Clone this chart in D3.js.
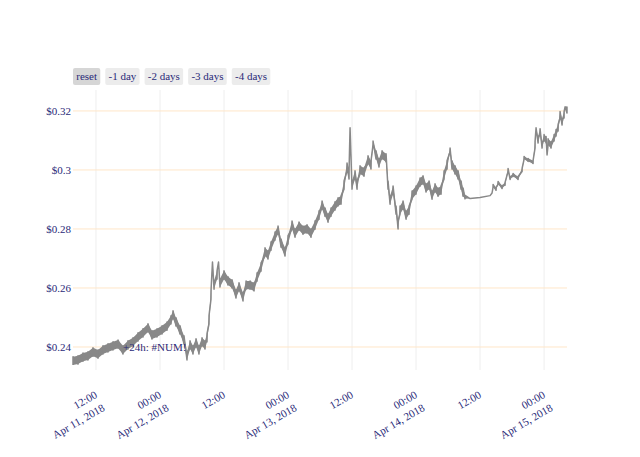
<!DOCTYPE html>
<html><head><meta charset="utf-8">
<script src="https://cdn.jsdelivr.net/npm/d3@7"></script>
<style>body{margin:0;background:#fff;}svg{display:block;}</style>
</head><body>
<svg id="c" width="640" height="457"></svg>
<script>
// ---- data ----
const baseDate = Date.UTC(2018, 3, 11, 0, 0); // Apr 11, 2018 00:00
const hours = [7.69, 8.63, 9.56, 10.5, 11.44, 12.38, 13.31, 14.25, 15.19, 16.13,
 17.06, 18.0, 18.94, 19.88, 20.81, 21.75, 22.5, 23.44, 24.38, 25.31,
 26.06, 26.44, 27.0, 27.75, 28.5, 29.06, 29.63, 30.19, 30.75, 31.31,
 31.88, 32.44, 32.81, 33.19, 33.56, 33.84, 34.13, 34.69, 34.97, 35.25,
 36.0, 36.75, 37.5, 38.25, 38.81, 39.56, 40.13, 40.88, 41.63, 42.19,
 42.94, 43.69, 44.25, 44.81, 45.56, 46.13, 46.69, 47.44, 48.0, 48.75,
 49.31, 50.06, 50.81, 51.56, 52.31, 53.06, 53.81, 54.38, 54.94, 55.5,
 56.06, 56.81, 57.38, 57.94, 58.5, 59.06, 59.44, 59.63, 60.0, 60.56,
 60.94, 61.5, 62.25, 63.0, 63.56, 63.94, 64.5, 65.06, 65.63, 66.38,
 66.75, 67.13, 67.69, 68.25, 68.63, 69.0, 69.56, 70.13, 70.69, 71.25,
 72.0, 72.75, 73.31, 73.88, 74.44, 75.0, 75.56, 76.13, 76.69, 77.25,
 77.81, 78.38, 78.75, 79.31, 79.88, 80.44, 80.81, 81.19, 82.13, 84.0,
 85.88, 86.25, 86.44, 87.0, 87.38, 88.13, 88.69, 89.25, 89.63, 90.19,
 91.13, 91.88, 92.25, 93.0, 93.94, 94.31, 94.5, 94.88, 95.25, 95.63,
 96.0, 96.38, 96.56, 96.75, 97.31, 97.88, 98.25, 98.63, 99.0, 99.38,
 99.75, 99.94, 100.3];
const prices = [.2353, .2356, .2366, .2370, .2383, .2376, .2390, .2397, .2404, .2410,
 .2390, .2407, .2417, .2434, .2448, .2465, .2441, .2448, .2458, .2471,
 .2492, .2509, .2485, .2458, .2424, .2370, .2407, .2390, .2414, .2390,
 .2417, .2407, .2431, .2492, .2576, .2688, .2610, .2644, .2688, .2617,
 .2644, .2624, .2614, .2580, .2604, .2570, .2610, .2610, .2604, .2637,
 .2671, .2722, .2712, .2742, .2776, .2796, .2752, .2722, .2763, .2813,
 .2786, .2810, .2796, .2800, .2786, .2813, .2847, .2881, .2857, .2837,
 .2857, .2878, .2892, .2898, .2949, .3010, .2983, .3143, .2949, .2983,
 .2949, .3000, .2993, .3034, .3017, .3092, .3051, .3024, .3051, .3041,
 .2949, .2898, .2932, .2864, .2814, .2864, .2881, .2847, .2864, .2915,
 .2932, .2959, .2966, .2939, .2949, .2915, .2939, .2925, .2932, .2983,
 .3017, .3068, .3017, .3000, .2983, .2949, .2925, .2908, .2903, .2907,
 .2913, .2922, .2946, .2936, .2956, .2942, .2953, .3000, .2973, .2983,
 .2973, .3000, .3041, .3034, .3027, .3085, .3143, .3102, .3129, .3085,
 .3109, .3102, .3051, .3095, .3085, .3109, .3126, .3143, .3187, .3163,
 .3187, .3214, .3204];
// intra-interval trading range (high - low) around each price
const ranges = [.0028, .0028, .0028, .0028, .0028, .0028, .0028, .0028, .0028, .0028,
 .0028, .0028, .0028, .0028, .0028, .0028, .0028, .0028, .0028, .0028,
 .0028, .0028, .0028, .0028, .0028, .0028, .0028, .0028, .0028, .0028,
 .0028, .0028, .0028, .0028, .0028, 0, .0028, .0028, 0, .0028,
 .0028, .0028, .0028, .0028, .0028, .0028, .0028, .0028, .0028, .0028,
 .0028, .0028, .0028, .0028, .0028, .0028, .0028, .0028, .0028, .0028,
 .0028, .0028, .0028, .0028, .0028, .0028, .0028, .0028, .0028, .0028,
 .0028, .0028, .0028, .0028, .0028, .0028, .0028, 0, .0028, .0028,
 .0028, .0028, .0028, .0028, .0028, .0012, .0028, .0028, .0028, .0028,
 .0028, .0028, .0028, .0028, .0028, .0028, .0028, .0028, .0028, .0028,
 .0028, .0028, .0028, .0028, .0028, .0028, .0028, .0028, .0028, .0028,
 .0028, .0012, .0028, .0028, .0028, .0028, .0028, .0012, 0, 0,
 0, 0, .001, .001, .001, .001, .001, .001, .001, .001,
 .001, .001, .001, .001, .001, .0022, 0, .0022, .0022, .0022,
 .0022, .0022, 0, .0022, .0022, .0022, .0022, .0022, .0022, .0022,
 .0022, 0, .0022];
const yTicks = [0.24, 0.26, 0.28, 0.30, 0.32];
const yTickLabels = ["$0.24", "$0.26", "$0.28", "$0.3", "$0.32"];
const xTickHours = [12, 24, 36, 48, 60, 72, 84, 96];
const xTickLine1 = ["12:00", "00:00", "12:00", "00:00", "12:00", "00:00", "12:00", "00:00"];
const xTickLine2 = ["Apr 11, 2018", "Apr 12, 2018", "", "Apr 13, 2018", "", "Apr 14, 2018", "", "Apr 15, 2018"];
const buttons = ["reset", "-1 day", "-2 days", "-3 days", "-4 days"];
const annotationText = "+24h: #NUM!";
const annotationHour = 23.0;
const annotationPrice = 0.24;

// ---- rendering ----
const HOUR = 3600000;
const data = hours.map((h, i) => ({t: new Date(baseDate + h * HOUR), p: prices[i], r: ranges[i]}));
const svg = d3.select("#c");
const FONT = "'Liberation Serif', 'Times New Roman', serif";
const TXT = "#2a2a78";
const L = 73, R = 567, T = 90, B = 370;

const x = d3.scaleUtc().domain(d3.extent(data, d => d.t)).range([L, R]);
const y = d3.scaleLinear().domain([0.2322, 0.3271]).range([B, T]);

// vertical grid
svg.append("g").selectAll("line").data(xTickHours).join("line")
  .attr("x1", d => x(new Date(baseDate + d * HOUR))).attr("x2", d => x(new Date(baseDate + d * HOUR)))
  .attr("y1", T).attr("y2", B).attr("stroke", "#eeeeee").attr("stroke-width", 1);
// horizontal grid
svg.append("g").selectAll("line").data(yTicks).join("line")
  .attr("x1", L).attr("x2", R).attr("y1", d => y(d)).attr("y2", d => y(d))
  .attr("stroke", "#ffe6c8").attr("stroke-width", 1);

// y labels
svg.append("g").selectAll("text").data(yTicks).join("text")
  .attr("x", 71).attr("y", d => y(d)).attr("dy", "0.35em")
  .attr("text-anchor", "end").attr("font-family", FONT).attr("font-size", 11)
  .attr("fill", TXT).text((d, i) => yTickLabels[i]);

// x labels
const xl = svg.append("g").selectAll("g").data(xTickHours).join("g")
  .attr("transform", d => `translate(${x(new Date(baseDate + d * HOUR)) + 2},397) rotate(-30)`);
xl.append("text").attr("text-anchor", "end").attr("font-family", FONT).attr("font-size", 11)
  .attr("fill", TXT).text((d, i) => xTickLine1[i]);
xl.append("text").attr("y", 15).attr("text-anchor", "end").attr("font-family", FONT).attr("font-size", 11)
  .attr("fill", TXT).text((d, i) => xTickLine2[i]);

// price band (low-high range) + zigzag trace between low and high
svg.append("path").datum(data)
  .attr("d", d3.area().x(d => x(d.t)).y0(d => y(d.p - d.r / 2)).y1(d => y(d.p + d.r / 2)))
  .attr("fill", "#888888").attr("stroke", "none");
const zig = [];
data.forEach(d => { zig.push([d.t, d.p - d.r / 2]); zig.push([d.t, d.p + d.r / 2]); });
svg.append("path").datum(zig)
  .attr("d", d3.line().x(d => x(d[0])).y(d => y(d[1])))
  .attr("fill", "none").attr("stroke", "#888888").attr("stroke-width", 1.5).attr("stroke-linejoin", "round");

// annotation
svg.append("text").attr("x", x(new Date(baseDate + annotationHour * HOUR)))
  .attr("y", y(annotationPrice)).attr("dy", "0.35em").attr("text-anchor", "middle")
  .attr("font-family", FONT).attr("font-size", 11).attr("fill", TXT).text(annotationText);

// buttons
let bx = 73;
buttons.forEach((b, i) => {
  const g = svg.append("g");
  const rect = g.append("rect").attr("y", 68).attr("height", 17).attr("rx", 2)
    .attr("fill", i === 0 ? "#d6d6d6" : "#ececec");
  const t = g.append("text").attr("y", 80).attr("font-family", FONT).attr("font-size", 11)
    .attr("fill", TXT).attr("text-anchor", "middle").text(b);
  const w = t.node().getComputedTextLength() + 6.5;
  rect.attr("x", bx).attr("width", w);
  t.attr("x", bx + w / 2);
  bx += w + 5;
});
</script>
</body></html>
